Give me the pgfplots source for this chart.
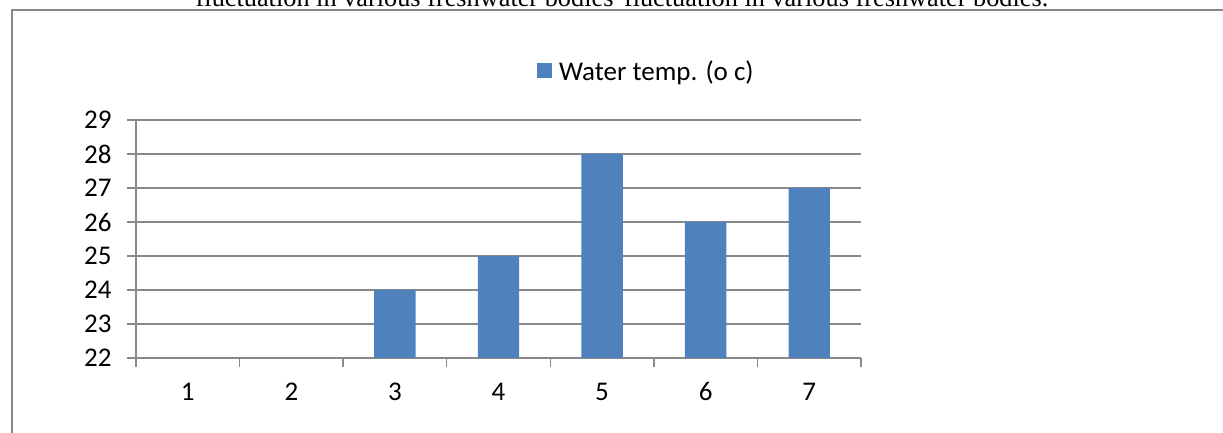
\documentclass[border=0pt]{standalone}
\usepackage{fontspec}
\setmainfont{Carlito}[Numbers=Lining]
\newfontfamily\titlefont{Liberation Serif}
\usepackage{pgfplots}
\pgfplotsset{compat=1.18}
\definecolor{barblue}{HTML}{4F81BD}
\definecolor{linegray}{HTML}{898989}
\begin{document}
\begin{tikzpicture}[x=1pt,y=1pt]
\useasboundingbox (0,0) rectangle (1223,433);
% outer frame, cut by the page on the right and bottom
\draw[linegray, line width=2pt] (12,-5) -- (12,423) -- (1230,423);
\node[anchor=base, inner sep=0pt, font=\titlefont\fontsize{26.3}{30}\selectfont] at (622,426.5)
  {fluctuation in various freshwater bodies\hspace{0.4em}fluctuation in various freshwater bodies.};
\begin{axis}[
    at={(136pt,75pt)}, anchor=south west,
    width=725pt, height=238pt, scale only axis,
    xmin=0.5, xmax=7.5, ymin=22, ymax=29,
    axis lines=left,
    axis line style={-, linegray, line width=1.5pt},
    ytick={22,...,29},
    ymajorgrids,
    grid style={linegray, line width=1.5pt},
    xtick={0.5,1.5,...,7.5}, xticklabels={},
    extra x ticks={1,...,7},
    extra x tick labels={1,2,3,4,5,6,7},
    extra x tick style={major tick length=0pt, grid=none},
    tick align=outside, major tick length=9pt,
    tick style={linegray, line width=1.5pt},
    ticklabel style={font=\fontsize{27}{31}\selectfont},
    yticklabel style={xshift=-12pt},
    xticklabel style={text height=17pt, text depth=0pt, yshift=-22pt},
    /pgf/number format/assume math mode=true,
    ybar, bar width=0.4,
    legend style={at={(0.553,1.206)}, anchor=west, draw=none, fill=none,
        inner sep=0pt, nodes={inner sep=0pt}, font=\fontsize{27}{31}\selectfont},
    legend image code/.code={\fill[barblue] (0pt,-7.5pt) rectangle (15pt,7.5pt);},
    /tikz/every odd column/.append style={column sep=7pt},
]
\addplot[fill=barblue, draw=none] coordinates {(3,24) (4,25) (5,28) (6,26) (7,27)};
\addlegendentry{Water temp. (o c)}
\end{axis}
\end{tikzpicture}
\end{document}
